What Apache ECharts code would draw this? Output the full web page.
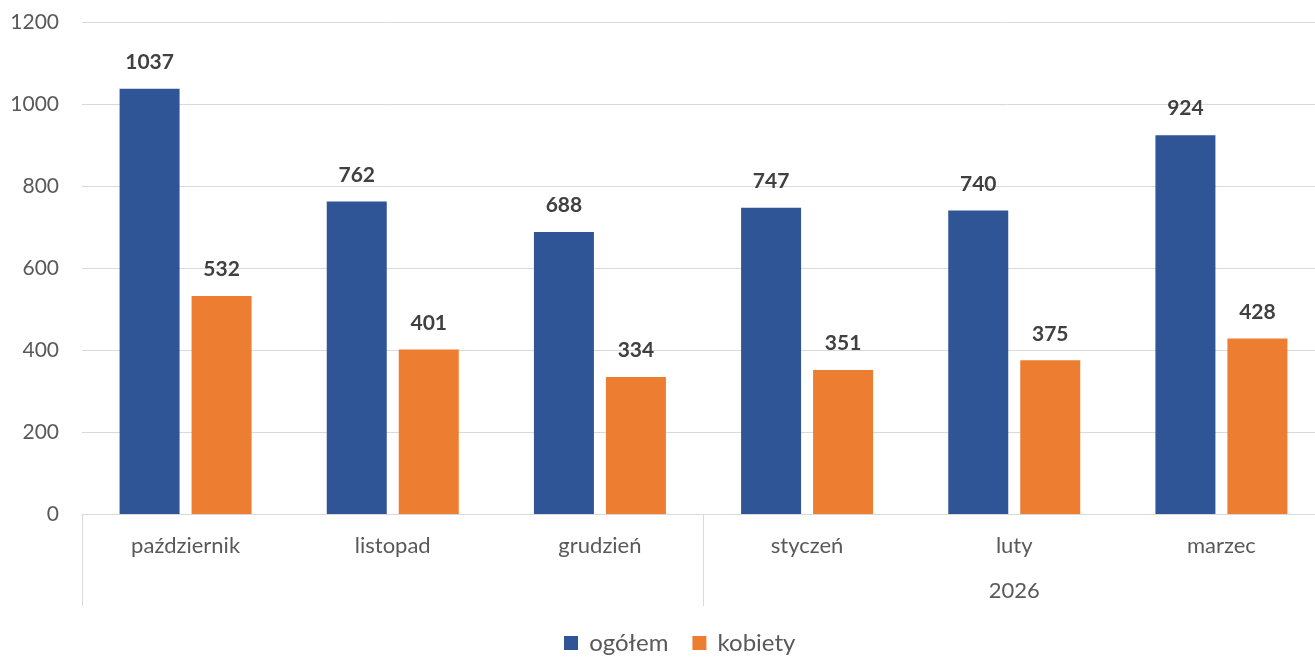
<!DOCTYPE html>
<html><head><meta charset="utf-8">
<script src="https://cdn.jsdelivr.net/npm/echarts@6/dist/echarts.min.js"></script>
<style>html,body{margin:0;padding:0;background:#fff}#c{width:1315px;height:657px}</style>
</head><body><div id="c"></div>
<script>
const categories = ['październik','listopad','grudzień','styczeń','luty','marzec'];
const groups = ['', '2026'];
const ogolem = [1037, 762, 688, 747, 740, 924];
const kobiety = [532, 401, 334, 351, 375, 428];
const seriesNames = ['ogółem','kobiety'];

const FONT = 'Lato';
const chart = echarts.init(document.getElementById('c'));
chart.setOption({
  animation: false,
  textStyle: {fontFamily: FONT},
  grid: {left: 82, width: 1243, top: 22, bottom: 143, containLabel: false, outerBoundsMode: 'none'},
  legend: {
    data: seriesNames, top: 631, left: 564, padding: 0, itemWidth: 14, itemHeight: 14, itemGap: 24,
    icon: 'rect', formatter: n => ' ' + n,
    textStyle: {fontSize: 24, color: '#595959', fontFamily: FONT}
  },
  xAxis: [{
    type: 'category', data: categories, position: 'bottom',
    axisLine: {show: true, lineStyle: {color: '#D9D9D9', width: 1}},
    axisTick: {show: false},
    axisLabel: {fontSize: 22, color: '#595959', margin: 21, fontFamily: FONT}
  }, {
    type: 'category', data: groups, position: 'bottom',
    axisLine: {show: false},
    axisTick: {show: true, length: 92, alignWithLabel: false, lineStyle: {color: '#D9D9D9'}},
    axisLabel: {fontSize: 22, color: '#595959', margin: 66, fontFamily: FONT}
  }],
  yAxis: {
    type: 'value', min: 0, max: 1200, interval: 200,
    axisLine: {show: false}, axisTick: {show: false},
    splitLine: {lineStyle: {color: '#D9D9D9', width: 1}},
    axisLabel: {fontSize: 21, color: '#595959', margin: 23, fontFamily: FONT, formatter: v => String(v)}
  },
  series: [{
    name: seriesNames[0], type: 'bar', data: ogolem, barWidth: 60, barGap: '20%',
    itemStyle: {color: '#2F5597'},
    label: {show: true, position: 'top', distance: 16, fontSize: 21, fontWeight: 'bold', color: '#404040', fontFamily: FONT}
  }, {
    name: seriesNames[1], type: 'bar', data: kobiety, barWidth: 60, barGap: '20%',
    itemStyle: {color: '#ED7D31'},
    label: {show: true, position: 'top', distance: 16, fontSize: 21, fontWeight: 'bold', color: '#404040', fontFamily: FONT}
  }]
});
</script></body></html>
